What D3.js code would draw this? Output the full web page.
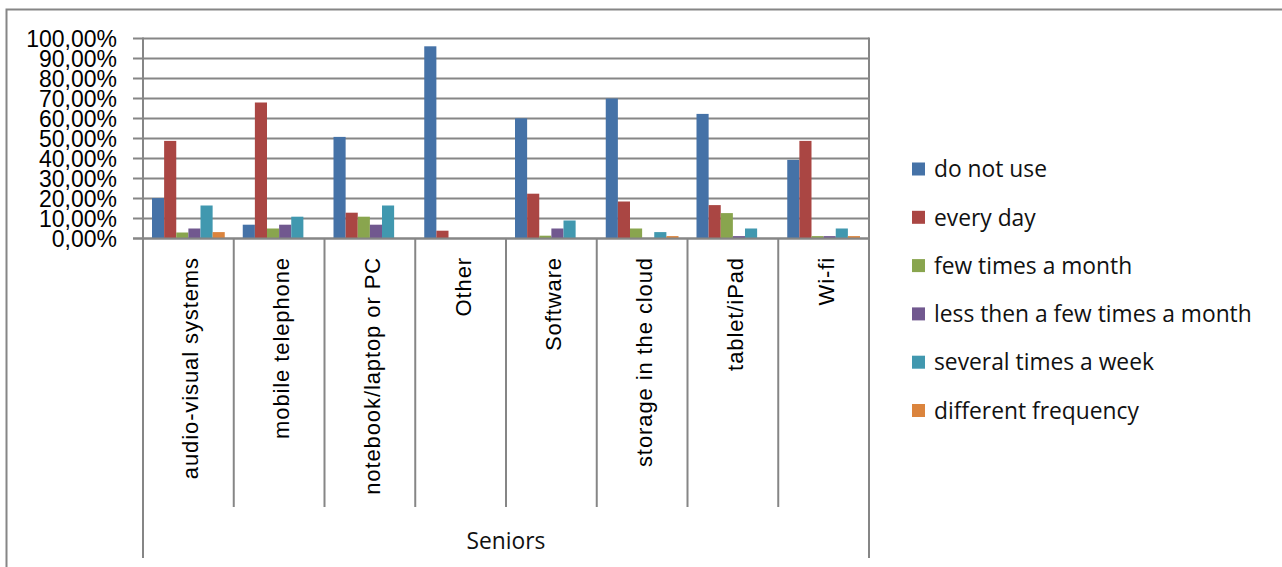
<!DOCTYPE html>
<html>
<head>
<meta charset="utf-8">
<script src="https://cdn.jsdelivr.net/npm/d3@7"></script>
<style>
  body { margin: 0; background: #fff; }
  .grid line { stroke: #868686; stroke-width: 2; }
  .axis-y text { font-family: "Liberation Sans", Arial, sans-serif; font-size: 23px; fill: #000; }
  .cat-label { font-family: "Liberation Sans", Arial, sans-serif; font-size: 22px; letter-spacing: 0.9px; fill: #000; }
  .legend text, .group-label { font-family: "Open Sans", sans-serif; font-size: 22.8px; fill: #111; }
</style>
</head>
<body>
<div id="chart"></div>
<script>
// categories and series
var categories = ["audio-visual systems", "mobile telephone", "notebook/laptop or PC", "Other",
                  "Software", "storage in the cloud", "tablet/iPad", "Wi-fi"];
var series = ["do not use", "every day", "few times a month", "less then a few times a month",
              "several times a week", "different frequency"];

// values per series, in the order of the categories (fractions)
var doNotUse      = [0.202, 0.069, 0.508, 0.961, 0.601, 0.700, 0.623, 0.393];
var everyDay      = [0.488, 0.680, 0.129, 0.039, 0.224, 0.185, 0.167, 0.488];
var fewMonth      = [0.030, 0.050, 0.109, 0.000, 0.014, 0.050, 0.127, 0.012];
var lessFewMonth  = [0.050, 0.069, 0.069, 0.000, 0.050, 0.000, 0.012, 0.012];
var severalWeek   = [0.165, 0.109, 0.165, 0.000, 0.090, 0.032, 0.050, 0.050];
var different     = [0.032, 0.000, 0.000, 0.000, 0.000, 0.012, 0.000, 0.012];

var yTicks = [0, 0.1, 0.2, 0.3, 0.4, 0.5, 0.6, 0.7, 0.8, 0.9, 1];
var groupLabel = "Seniors";

var values = [doNotUse, everyDay, fewMonth, lessFewMonth, severalWeek, different];

var colors = ["#4572A7", "#AA4643", "#89A54E", "#71588F", "#4198AF", "#DB843D"];

var width = 1282, height = 567;
var plot = {left: 143, right: 869, top: 38.5, bottom: 238.5};

var svg = d3.select("#chart").append("svg")
    .attr("width", width)
    .attr("height", height);

// outer chart frame
svg.append("rect")
    .attr("x", 6.5).attr("y", 9.5)
    .attr("width", width + 10).attr("height", height + 10)
    .attr("fill", "none")
    .attr("stroke", "#868686")
    .attr("stroke-width", 2);

// scales
var x0 = d3.scaleBand()
    .domain(categories)
    .range([plot.left, plot.right]);

var x1 = d3.scaleBand()
    .domain(series)
    .range([9, x0.bandwidth() - 9]);

var y = d3.scaleLinear()
    .domain([0, 1])
    .range([plot.bottom, plot.top]);

var color = d3.scaleOrdinal().domain(series).range(colors);

var locale = d3.formatLocale({decimal: ",", thousands: ".", grouping: [3], currency: ["", ""]});
var pct = locale.format(".2%");

// horizontal gridlines with tick marks
svg.append("g")
    .attr("class", "grid")
    .selectAll("line")
    .data(yTicks)
    .enter().append("line")
    .attr("x1", plot.left - 10)
    .attr("x2", plot.right)
    .attr("y1", function(d) { return y(d); })
    .attr("y2", function(d) { return y(d); });

// y axis labels
var yAxis = svg.append("g")
    .attr("class", "axis-y")
    .attr("transform", "translate(" + (plot.left - 26) + ",0)")
    .call(d3.axisLeft(y).tickValues(yTicks).tickFormat(pct).tickSize(0).tickPadding(0));
yAxis.select(".domain").remove();
yAxis.selectAll("text").attr("dy", "0.36em");

// bars
var groups = svg.append("g").selectAll("g")
    .data(categories)
    .enter().append("g")
    .attr("transform", function(d) { return "translate(" + x0(d) + ",0)"; });

groups.selectAll("rect")
    .data(function(c, i) {
        return series.map(function(s, j) { return {key: s, value: values[j][i]}; });
    })
    .enter().append("rect")
    .attr("x", function(d) { return x1(d.key); })
    .attr("width", x1.bandwidth())
    .attr("y", function(d) { return y(d.value); })
    .attr("height", function(d) { return y(0) - y(d.value); })
    .attr("fill", function(d) { return color(d.key); });

// category separators below the axis
var bounds = categories.map(function(c) { return x0(c); }).concat([plot.right]);
svg.append("g")
    .attr("class", "grid")
    .selectAll("line")
    .data(bounds)
    .enter().append("line")
    .attr("x1", function(d) { return d; })
    .attr("x2", function(d) { return d; })
    .attr("y1", plot.top - 1)
    .attr("y2", function(d, i) {
        return (i === 0 || i === bounds.length - 1) ? 558 : 507;
    })
    .filter(function(d, i) { return i > 0 && i < bounds.length - 1; })
    .attr("y1", plot.bottom);

// axis baseline
svg.append("line")
    .attr("x1", plot.left - 10).attr("x2", plot.right)
    .attr("y1", plot.bottom).attr("y2", plot.bottom)
    .attr("stroke", "#868686").attr("stroke-width", 2);

// rotated category labels
svg.append("g").selectAll("text")
    .data(categories)
    .enter().append("text")
    .attr("class", "cat-label")
    .attr("transform", function(d) {
        return "translate(" + (x0(d) + x0.bandwidth() / 2 + 2) + ",257) rotate(-90)";
    })
    .attr("dy", "0.36em")
    .attr("text-anchor", "end")
    .text(function(d) { return d; });

svg.append("text")
    .attr("class", "group-label")
    .attr("x", (plot.left + plot.right) / 2)
    .attr("y", 549)
    .attr("text-anchor", "middle")
    .text(groupLabel);

// legend
var legend = svg.append("g")
    .attr("class", "legend")
    .selectAll("g")
    .data(series)
    .enter().append("g")
    .attr("transform", function(d, i) { return "translate(912," + (169 + i * 48.3) + ")"; });

legend.append("rect")
    .attr("x", 0).attr("y", -6.5)
    .attr("width", 13).attr("height", 13)
    .attr("fill", function(d) { return color(d); });

legend.append("text")
    .attr("x", 22)
    .attr("dy", "0.36em")
    .text(function(d) { return d; });
</script>
</body>
</html>
